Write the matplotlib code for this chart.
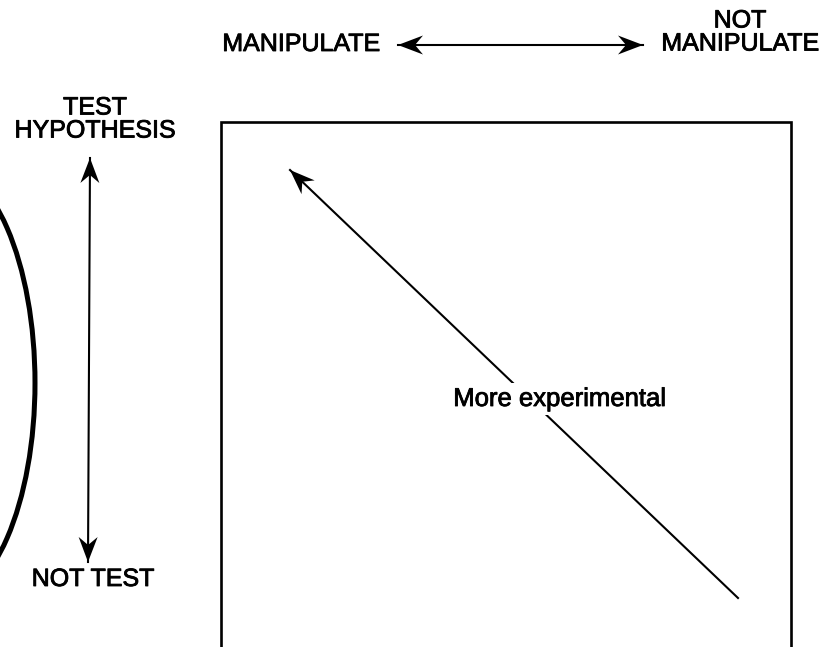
import numpy as np
import matplotlib.pyplot as plt
import matplotlib.patheffects as pe
from matplotlib.patches import Ellipse, Polygon

plt.rcParams['font.family'] = ['Liberation Sans', 'DejaVu Sans']

# Labels of the diagram
top_left_label = 'MANIPULATE'
top_right_label = 'NOT\nMANIPULATE'
side_top_label = 'TEST\nHYPOTHESIS'
side_bottom_label = 'NOT TEST'
diag_label = 'More experimental'

W, H = 822, 647
fig = plt.figure(figsize=(W / 100, H / 100), dpi=100)
ax = fig.add_axes([0, 0, 1, 1])
ax.set_xlim(0, W)
ax.set_ylim(H, 0)
ax.axis('off')

# scanned text looks a little heavier than plain regular
heavy = [pe.withStroke(linewidth=0.6, foreground='black')]

# the square frame (bottom is cut off in the reference)
ax.plot([221, 221, 791, 791], [H + 10, 122, 122, H + 10], color='black', lw=1.9,
        solid_joinstyle='miter')


def head(tip, back, length=25, half=9.5, notch=8):
    # notched arrow head pointing at tip
    tip = np.array(tip, float)
    d = tip - np.array(back, float)
    d /= np.hypot(*d)
    n = np.array([-d[1], d[0]])
    base = tip - d * length
    pts = [tip, base + n * half, tip - d * (length - notch), base - n * half]
    ax.add_patch(Polygon(pts, closed=True, color='black', lw=0))


def arrow(p0, p1, both=True, lw=1.5):
    ax.plot([p0[0], p1[0]], [p0[1], p1[1]], color='black', lw=lw)
    head(p1, p0)
    if both:
        head(p0, p1)


# horizontal arrow
arrow((398, 45), (643, 45))
ax.text(301, 44, top_left_label, ha='center', va='center', fontsize=18,
        path_effects=heavy)
ax.text(740, 32, top_right_label, ha='center', va='center', fontsize=18,
        linespacing=0.95, path_effects=heavy)

# vertical arrow
arrow((88, 562), (90, 158))
ax.text(95, 119, side_top_label, ha='center', va='center', fontsize=18,
        linespacing=0.95, path_effects=heavy)
ax.text(93, 579, side_bottom_label, ha='center', va='center', fontsize=18,
        path_effects=heavy)

# diagonal arrow
arrow((738, 598), (290, 170), both=False, lw=1.5)
ax.text(560, 399, diag_label, ha='center', va='center', fontsize=18.5,
        path_effects=heavy,
        bbox=dict(facecolor='white', edgecolor='none', pad=3))

# thick ellipse on the left edge
ax.add_patch(Ellipse((-60, 383), 190, 438, fill=False, lw=3.6, edgecolor='black'))

fig.savefig('out.png', dpi=100)
